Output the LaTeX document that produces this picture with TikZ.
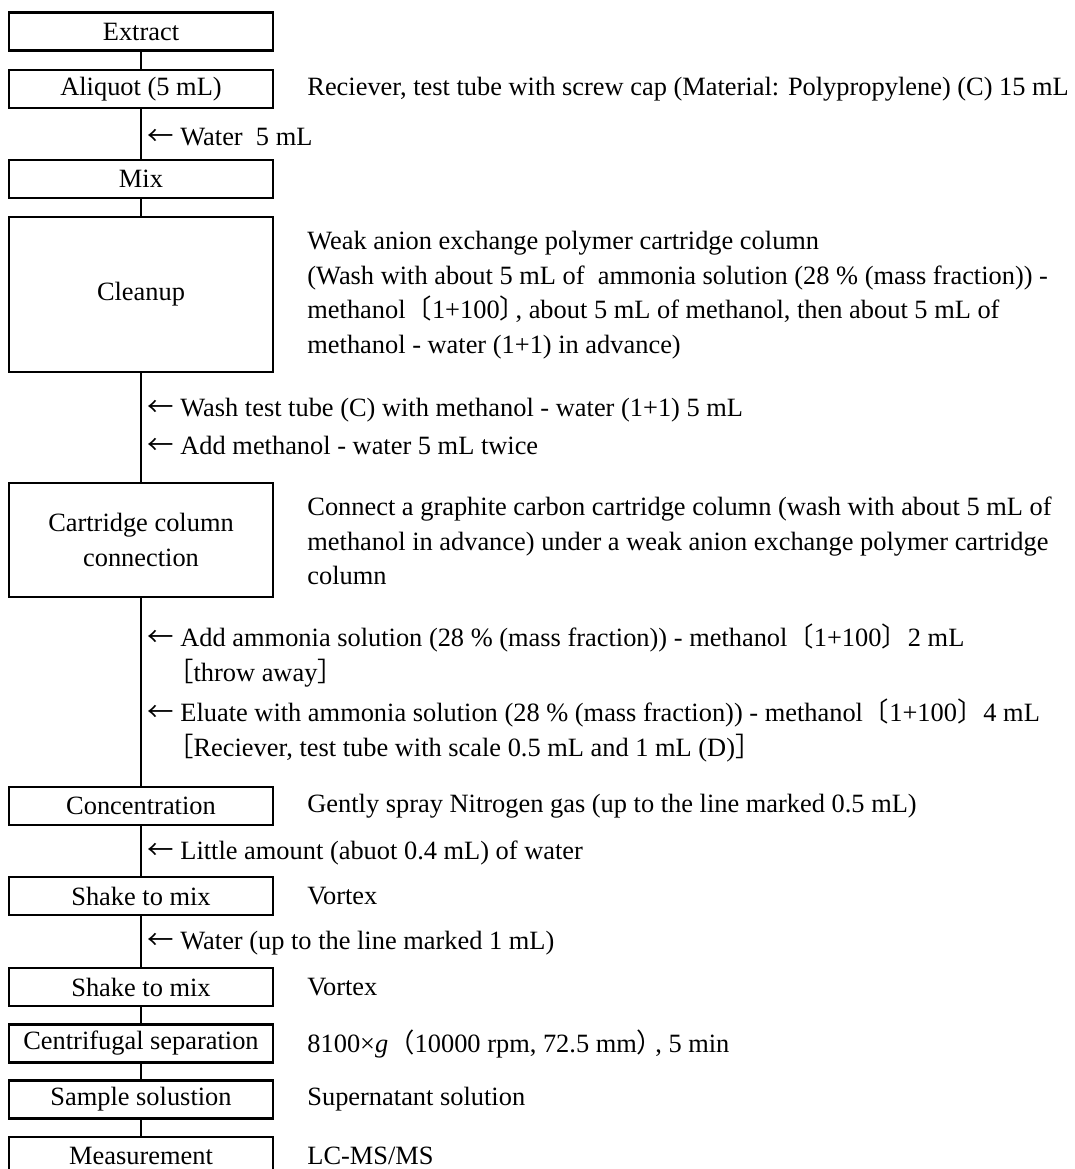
\documentclass[tikz,border=0pt]{standalone}
\usepackage{fontspec}
\setmainfont{Liberation Serif}
\newfontfamily\cjk{Noto Sans CJK JP}
\newcommand{\addarrow}{{\cjk ←}}

\begin{document}
\begin{tikzpicture}[x=0.5pt, y=0.5pt, font=\fontsize{13.2}{17.3}\selectfont]
\useasboundingbox (0,0) rectangle (1075,-1169);

\begin{scope}[every node/.style={rectangle, draw, line width=1.3pt, minimum width=132pt, minimum height=19pt, inner sep=0pt, align=center}]
\node (b1) at (141, -31.5) {Extract};
\node (b2) at (141, -89) {Aliquot (5 mL)};
\node (b3) at (141, -179) {Mix};
\node (b4) at (141, -294.5) [minimum height=77.5pt] {Cleanup};
\node (b5) at (141, -540) [minimum height=57pt] {Cartridge column\\connection};
\node (b6) at (141, -806) {Concentration};
\node (b7) at (141, -896) {Shake to mix};
\node (b8) at (141, -987) {Shake to mix};
\node (b9) at (141, -1043.5) {Centrifugal separation};
\node (b10) at (141, -1099.5) {Sample solustion};
\node (b11) at (141, -1156) {Measurement};
\end{scope}

\begin{scope}[every node/.style={anchor=west, inner sep=0pt, align=left}]
\node (s2) at (307, -89) {Reciever, test tube with screw cap (Material: Polypropylene) (C) 15 mL};
\node (s4) at (307, -295) {Weak anion exchange polymer cartridge column\\
(Wash with about 5 mL of\ \ ammonia solution (28 \% (mass fraction)) -\\
methanol{\cjk 〔}1+100{\cjk 〕}\kern-0.4em, about 5 mL of methanol, then about 5 mL of\\
methanol - water (1+1) in advance)};
\node (s5) at (307, -541) {Connect a graphite carbon cartridge column (wash with about 5 mL of\\
methanol in advance) under a weak anion exchange polymer cartridge\\
column};
\node (s6) at (307, -806) {Gently spray Nitrogen gas (up to the line marked 0.5 mL)};
\node (s7) at (307, -896) {Vortex};
\node (s8) at (307, -987) {Vortex};
\node (s9) at (307, -1043.5) {8100×\textit{g}{\cjk （}10000 rpm, 72.5 mm{\cjk ）}\kern-0.3em, 5 min};
\node (s10) at (307, -1099.5) {Supernatant solution};
\node (s11) at (307, -1156) {LC-MS/MS};
\end{scope}

\begin{scope}[every node/.style={anchor=west, inner sep=0pt, align=left}]
\node (w1) at (147, -137) {\addarrow\ Water\ \ 5 mL};
\node (w2) at (147, -410) {\addarrow\ Wash test tube (C) with methanol - water (1+1) 5 mL};
\node (w3) at (147, -445) {\addarrow\ Add methanol - water 5 mL twice};
\node (w4) at (147, -655.5) {\addarrow\ Add ammonia solution (28 \% (mass fraction)) - methanol{\cjk 〔}1+100{\cjk 〕}2 mL\\
\hspace*{0.75em}{\cjk ［}throw away{\cjk ］}};
\node (w5) at (147, -730.5) {\addarrow\ Eluate with ammonia solution (28 \% (mass fraction)) - methanol{\cjk 〔}1+100{\cjk 〕}4 mL\\
\hspace*{0.75em}{\cjk ［}Reciever, test tube with scale 0.5 mL and 1 mL (D){\cjk ］}};
\node (w6) at (147, -853) {\addarrow\ Little amount (abuot 0.4 mL) of water};
\node (w7) at (147, -943) {\addarrow\ Water (up to the line marked 1 mL)};
\end{scope}

\begin{scope}[line width=1.1pt]
\draw (b1) -- (b2);
\draw (b2) -- (b3);
\draw (b3) -- (b4);
\draw (b4) -- (b5);
\draw (b5) -- (b6);
\draw (b6) -- (b7);
\draw (b7) -- (b8);
\draw (b8) -- (b9);
\draw (b9) -- (b10);
\draw (b10) -- (b11);
\end{scope}

\end{tikzpicture}
\end{document}
